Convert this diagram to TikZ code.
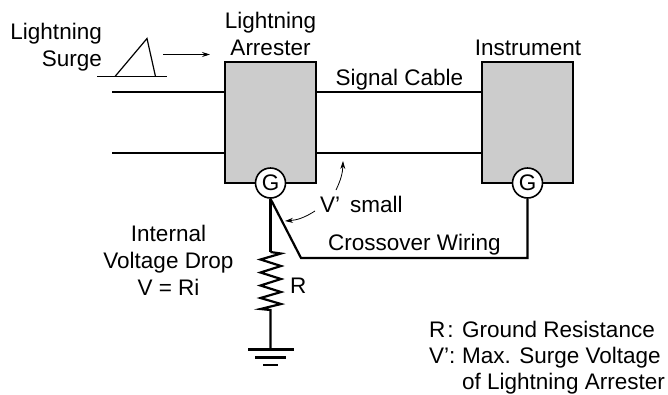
\documentclass[tikz,border=0pt]{standalone}
\usepackage{fontspec}
\setmainfont{Liberation Sans}
\usetikzlibrary{arrows.meta}
\tikzset{
 wire/.style={line width=2.2pt,line join=miter},
 thin wire/.style={line width=1.2pt},
 device/.style={draw,line width=1.6pt,fill=black!20,minimum width=91pt,minimum height=121pt,inner sep=0},
 gterm/.style={draw,line width=1.6pt,fill=white,circle,minimum size=30pt,inner sep=0,font=\fontsize{22.5}{23}\selectfont},
 lbl/.style={inner sep=0,font=\fontsize{22.5}{26}\selectfont},
 pointer/.style={line width=0.8pt,-{Stealth[length=8pt,width=5pt]}}
}
\begin{document}
\begin{tikzpicture}[x=1pt,y=-1pt]
\useasboundingbox (0,0) rectangle (668,394);
\node[device] (arr) at (270.5,122.5) {};
\node[device] (ins) at (527.5,122.5) {};
\coordinate (a1) at (112,92);
\coordinate (a2) at (112,153);
\draw[wire] (a1) -- (arr.west |- a1);
\draw[wire] (a2) -- (arr.west |- a2);
\draw[wire] (arr.east |- a1) -- (ins.west |- a1);
\draw[wire] (arr.east |- a2) -- (ins.west |- a2);
\node[gterm] (g1) at (270.5,183) {G};
\node[gterm] (g2) at (527.5,183) {G};
% surge
\coordinate (s1) at (97,76.5);
\coordinate (s2) at (167,76.5);
\coordinate (t1) at (115,76.5);
\coordinate (t2) at (147,38.5);
\coordinate (t3) at (155.5,76.5);
\draw[thin wire] (s1) -- (s2);
\draw[thin wire] (t1) -- (t2) -- (t3);
\coordinate (sa) at (163,54.5);
\coordinate (sb) at (210,54.5);
\draw[pointer] (sa) -- (sb);
% ground path
\coordinate (r1) at (270.5,252);
\coordinate (r2) at (270.5,310);
\coordinate (gnd) at (270.5,349.5);
\draw[wire] (g1.south) -- (r1);
\draw[wire] (r1) -- (281,253.5) -- (260.5,259.5) -- (281,266) -- (260.5,272.5) -- (281,279) -- (260.5,285.5) -- (281,292) -- (260.5,298) -- (281,304) -- (260.5,309) -- (r2) -- (gnd);
\draw[wire] (248,349.5) -- (293.5,349.5);
\draw[wire] (255,357.5) -- (286,357.5);
\draw[wire] (263,365) -- (278,365);
% crossover
\coordinate (c1) at (301,258);
\coordinate (c2) at (527.5,258);
\draw[wire] (g1.south) -- (c1) -- (c2) -- (g2.south);
% V' arrows
\coordinate (v1) at (315,211);
\coordinate (v2) at (285,221);
\coordinate (v3) at (336,190);
\coordinate (v4) at (343,161);
\draw[pointer] (v1) to[bend left=14] (v2);
\draw[pointer] (v3) to[bend right=12] (v4);
% labels
\node[lbl,anchor=base east] (l1) at (102,39) {Lightning};
\node[lbl,anchor=base east] (l2) at (102,66) {Surge};
\node[lbl,anchor=base] (l3) at (270.5,28) {Lightning};
\node[lbl,anchor=base] (l4) at (270.5,55) {Arrester};
\node[lbl,anchor=base] (l5) at (528,55) {Instrument};
\node[lbl,anchor=base] (l6) at (399.5,85) {Signal Cable};
\node[lbl,anchor=base west] (l7) at (320,212) {V’\hspace{10pt}small};
\node[lbl,anchor=base west] (l8) at (328,250.5) {Crossover Wiring};
\node[lbl,anchor=base] (l9) at (168.5,241) {Internal};
\node[lbl,anchor=base] (l10) at (168.5,268) {Voltage Drop};
\node[lbl,anchor=base] (l11) at (168.5,295) {V = Ri};
\node[lbl,anchor=base west] (l12) at (290,293) {R};
\node[lbl,anchor=base west] (l13) at (429,337) {\makebox[33pt][l]{R\hspace{2pt}:}Ground Resistance};
\node[lbl,anchor=base west] (l14) at (429,363.5) {\makebox[33pt][l]{V’:}Max. Surge Voltage};
\node[lbl,anchor=base west] (l15) at (462,389.5) {of Lightning Arrester};
\end{tikzpicture}
\end{document}
